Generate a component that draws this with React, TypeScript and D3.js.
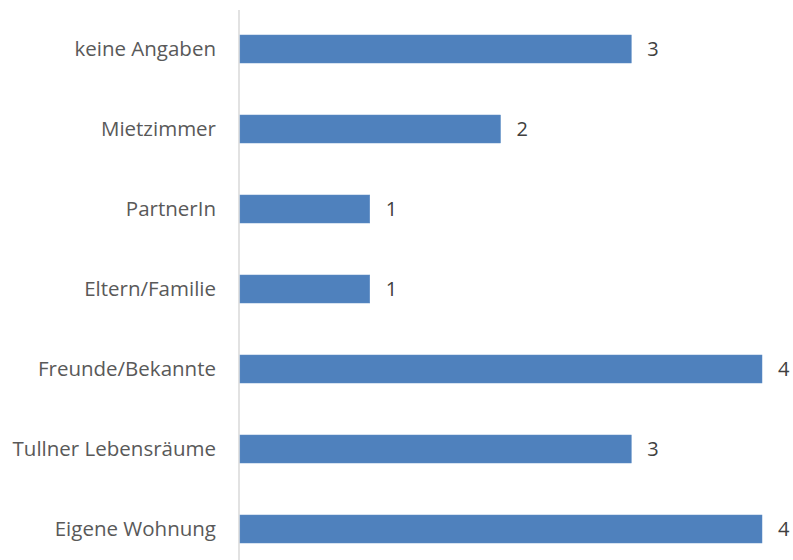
import React from "react";
import * as d3 from "d3";

const categories = ["keine Angaben", "Mietzimmer", "PartnerIn", "Eltern/Familie", "Freunde/Bekannte", "Tullner Lebensräume", "Eigene Wohnung"];
const values = [3, 2, 1, 1, 4, 3, 4];

const W = 793;
const H = 560;

export default function App() {
  const x = d3.scaleLinear().domain([0, 4]).range([239, 762]);
  const y = d3.scaleBand<string>().domain(categories).range([9, 569]).paddingInner(0.65).paddingOuter(0.325);
  const font = "'Open Sans', sans-serif";
  return (
    <svg width={W} height={H} style={{ position: "absolute", left: 0, top: 0, background: "#fff" }}>
      <line x1={239} x2={239} y1={10} y2={560} stroke="#d9d9d9" strokeWidth={1.5} />
      {categories.map((c, i) => {
        const yy = y(c)!;
        const bw = y.bandwidth();
        const cy = yy + bw / 2;
        return (
          <g key={c}>
            <rect x={x(0) + 1} y={yy} width={x(values[i]) - x(0) - 1} height={bw} fill="#4F81BD" stroke="#5b8bc4" strokeWidth={0.5} />
            <text x={216} y={cy} dy="0.35em" textAnchor="end" fontFamily={font} fontSize={20.5} fill="#595959">{c}</text>
            <text x={x(values[i]) + 16} y={cy} dy="0.35em" textAnchor="start" fontFamily={font} fontSize={20} fill="#404040">{values[i]}</text>
          </g>
        );
      })}
    </svg>
  );
}
